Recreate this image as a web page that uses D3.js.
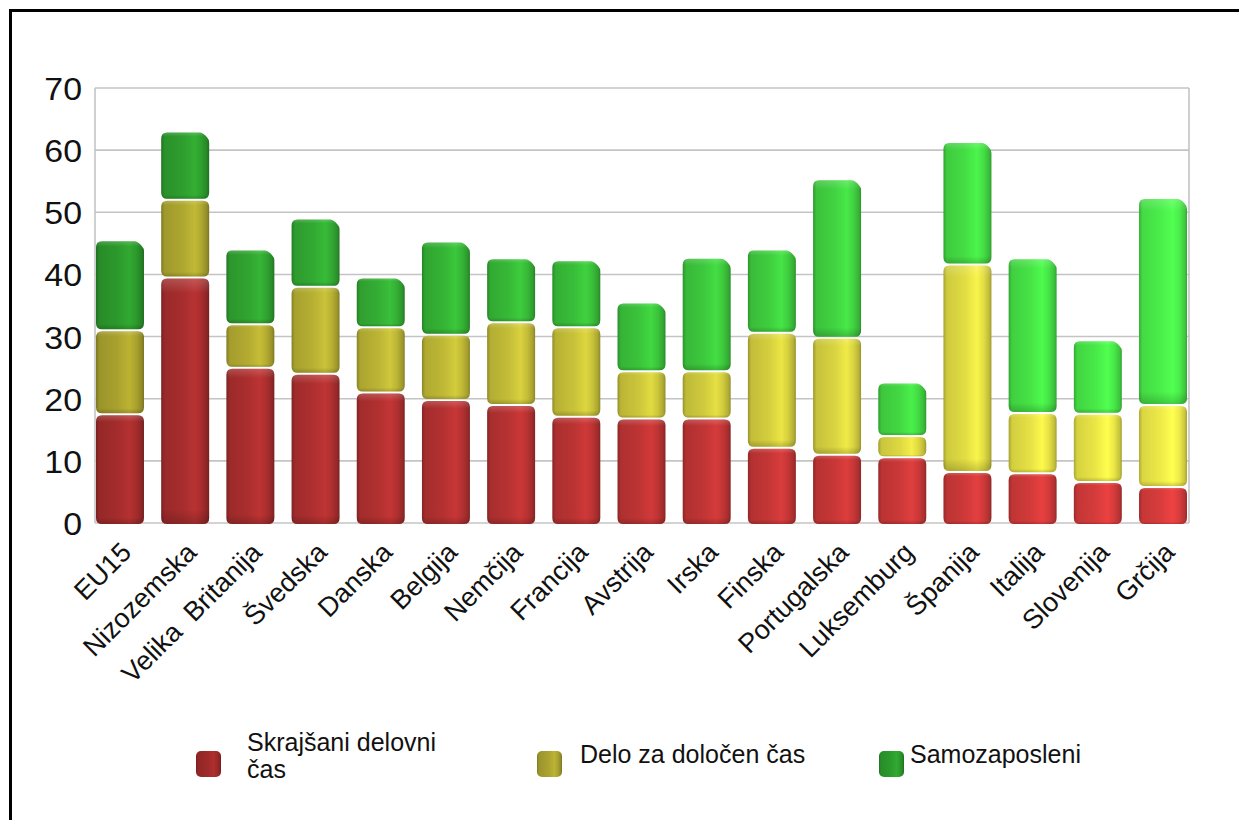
<!DOCTYPE html>
<html>
<head>
<meta charset="utf-8">
<script src="https://cdn.jsdelivr.net/npm/d3@7"></script>
<style>
  html, body { margin: 0; padding: 0; background: #ffffff; }
  svg { display: block; font-family: "Liberation Sans", Arial, sans-serif; }
</style>
</head>
<body>
<svg id="chart" width="1239" height="820"></svg>
<script>
// Countries along the x axis
const categories = ["EU15", "Nizozemska", "Velika  Britanija", "Švedska", "Danska", "Belgija",
  "Nemčija", "Francija", "Avstrija", "Irska", "Finska", "Portugalska", "Luksemburg",
  "Španija", "Italija", "Slovenija", "Grčija"];

// Stacked shares (%), bottom to top
const partTime     = [17.5, 39.5, 25, 24, 21, 19.8, 19, 17.1, 16.8, 16.8, 12.1, 11, 10.6, 8.2, 8, 6.6, 5.8];
const fixedTerm    = [13.5, 12.5, 7, 14, 10.5, 10.5, 13.3, 14.4, 7.6, 7.6, 18.5, 18.8, 3.4, 33.4, 9.7, 11, 13.2];
const selfEmployed = [14.5, 11, 12, 11, 8, 15, 10.3, 10.8, 11.1, 18.3, 13.4, 25.5, 8.6, 19.7, 24.9, 11.8, 33.3];

const seriesNames = ["Skrajšani delovni čas", "Delo za določen čas", "Samozaposleni"];
const yTicks = [0, 10, 20, 30, 40, 50, 60, 70];

// Bar colours shift from deep (left) to bright (right)
const colorsLeft  = ["#a42c2c", "#aaa22e", "#2c992c"];
const colorsRight = ["#d83c3c", "#eeea48", "#4aee4a"];
const legendColors = ["#9e2a2a", "#aaa230", "#2c9a2c"];

const svg = d3.select("#chart");
const W = 1239, H = 820;

// Frame lines
svg.append("path")
  .attr("d", `M10.5,${H} V10.5 H${W}`)
  .attr("fill", "none").attr("stroke", "#000").attr("stroke-width", 3);

const plot = { left: 95, right: 1189, top: 88, bottom: 523 };

const y = d3.scaleLinear().domain([0, 70]).range([plot.bottom, plot.top]);
const x = d3.scaleBand().domain(categories).range([96, 1187]).paddingInner(0.264);

// Grid
const grid = svg.append("g");
grid.selectAll("line.h").data(yTicks).join("line")
  .attr("x1", plot.left).attr("x2", plot.right)
  .attr("y1", d => y(d)).attr("y2", d => y(d))
  .attr("stroke", "#c4c4c4").attr("stroke-width", 1.6);
grid.selectAll("line.v").data([plot.left, plot.right]).join("line")
  .attr("x1", d => d).attr("x2", d => d)
  .attr("y1", plot.top).attr("y2", plot.bottom)
  .attr("stroke", "#c4c4c4").attr("stroke-width", 1.6);

// Y axis labels
const yAxis = d3.axisLeft(y).tickValues(yTicks).tickSize(0).tickPadding(0);
svg.append("g")
  .attr("transform", `translate(${plot.left - 13},0)`)
  .call(yAxis)
  .call(g => g.select(".domain").remove())
  .call(g => g.selectAll("text")
    .attr("font-size", 32).attr("fill", "#111")
    .attr("font-family", "Liberation Sans, Arial, sans-serif")
    .attr("transform", "scale(1.06,1)")
    .attr("dy", "0.36em"));

// Stack
const rows = categories.map((c, i) => ({ cat: c, i, s0: partTime[i], s1: fixedTerm[i], s2: selfEmployed[i] }));
const stack = d3.stack().keys(["s0", "s1", "s2"]);
const layers = stack(rows);

const defs = svg.append("defs");
const n = categories.length;
function barColor(k, i) {
  return d3.interpolateRgb(colorsLeft[k], colorsRight[k])(i / (n - 1));
}
function makeGradient(id, base) {
  const c = d3.color(base);
  const g = defs.append("linearGradient").attr("id", id)
    .attr("x1", "0").attr("x2", "1").attr("y1", "0").attr("y2", "0");
  const stops = [
    [0, c.darker(0.9)], [0.07, c.darker(0.25)], [0.45, c],
    [0.7, c.brighter(0.28)], [0.84, c], [0.95, c.darker(0.45)], [1, c.darker(1.0)]
  ];
  stops.forEach(([o, col]) => g.append("stop").attr("offset", o).attr("stop-color", col.formatHex()));
}
layers.forEach((layer, k) => {
  for (let i = 0; i < n; i++) makeGradient(`g${k}_${i}`, barColor(k, i));
});
// vertical shading overlay for a soft rounded look
const vg = defs.append("linearGradient").attr("id", "vshade")
  .attr("x1", "0").attr("x2", "0").attr("y1", "0").attr("y2", "1");
vg.append("stop").attr("offset", 0).attr("stop-color", "#fff").attr("stop-opacity", 0.18);
vg.append("stop").attr("offset", 0.06).attr("stop-color", "#fff").attr("stop-opacity", 0);
vg.append("stop").attr("offset", 0.94).attr("stop-color", "#000").attr("stop-opacity", 0);
vg.append("stop").attr("offset", 1).attr("stop-color", "#000").attr("stop-opacity", 0.18);

const bw = x.bandwidth();
function segPath(x0, x1, y0, y1, r, chamfer) {
  r = Math.min(r, (y1 - y0) / 2);
  const p = d3.path();
  p.moveTo(x0, y1 - r);
  p.lineTo(x0, y0 + r);
  p.quadraticCurveTo(x0, y0, x0 + r, y0);
  if (chamfer) {
    const c = Math.min(7, (y1 - y0) / 3);
    p.lineTo(x1 - c - 3, y0);
    p.quadraticCurveTo(x1 - c + 1, y0, x1 - 2, y0 + c - 2);
    p.quadraticCurveTo(x1, y0 + c, x1, y0 + c + 3);
  } else {
    p.lineTo(x1 - r, y0);
    p.quadraticCurveTo(x1, y0, x1, y0 + r);
  }
  p.lineTo(x1, y1 - r);
  p.quadraticCurveTo(x1, y1, x1 - r, y1);
  p.lineTo(x0 + r, y1);
  p.quadraticCurveTo(x0, y1, x0, y1 - r);
  p.closePath();
  return p.toString();
}

const bars = svg.append("g");
layers.forEach((layer, k) => {
  const g = bars.append("g");
  layer.forEach((d, i) => {
    const x0 = x(d.data.cat), x1 = x0 + bw;
    const yTop = y(d[1]) + 1, yBot = y(d[0]) - 1;
    const isTop = k === layers.length - 1;
    const dPath = segPath(x0, x1, yTop, yBot + (k === 0 ? 2 : 0), 6, isTop);
    g.append("path").attr("d", dPath).attr("fill", `url(#g${k}_${i})`);
    g.append("path").attr("d", dPath).attr("fill", "url(#vshade)");
  });
});

// X axis labels, rotated
const labels = svg.append("g");
labels.selectAll("text").data(categories).join("text")
  .attr("transform", d => `translate(${x(d) + bw / 2 + 13},554) rotate(-45)`)
  .attr("text-anchor", "end")
  .attr("font-size", 27)
  .attr("fill", "#111")
  .attr("xml:space", "preserve")
  .style("white-space", "pre")
  .text(d => d);

// Legend
const legendItems = [
  { color: legendColors[0], sx: 196, tx: 247, lines: ["Skrajšani delovni", "čas"] },
  { color: legendColors[1], sx: 537, tx: 580, lines: [seriesNames[1]] },
  { color: legendColors[2], sx: 879, tx: 910, lines: [seriesNames[2]] }
];
const legend = svg.append("g");
legendItems.forEach((it, k) => {
  makeGradient(`lg${k}`, it.color);
  legend.append("rect")
    .attr("x", it.sx).attr("y", 751).attr("width", 25).attr("height", 26)
    .attr("rx", 5).attr("fill", `url(#lg${k})`);
  const t = legend.append("text")
    .attr("x", it.tx)
    .attr("font-size", 25).attr("fill", "#111");
  if (it.lines.length === 2) {
    t.append("tspan").attr("x", it.tx).attr("y", 751).text(it.lines[0]);
    t.append("tspan").attr("x", it.tx).attr("y", 778).text(it.lines[1]);
  } else {
    t.append("tspan").attr("x", it.tx).attr("y", 763).text(it.lines[0]);
  }
});
</script>
</body>
</html>
